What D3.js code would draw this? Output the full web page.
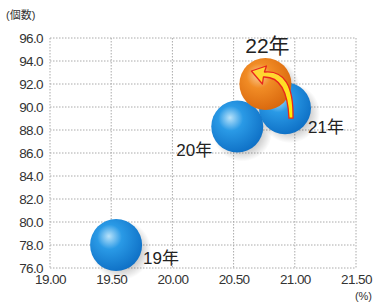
<!DOCTYPE html>
<meta charset="utf-8">
<style>
body { margin: 0; background: #fff; }
text { font-family: "Liberation Sans", "Noto Sans CJK JP", sans-serif; }
.grid line { stroke: #aaa; stroke-dasharray: 1.5,1.5; }
</style>
<svg width="374" height="302"></svg>
<script src="https://d3js.org/d3.v7.min.js"></script>
<script>

// data
var years   = ["19年", "20年", "21年", "22年"];
var xValues = [19.54, 20.53, 20.92, 20.76];
var yValues = [78.0, 88.3, 89.9, 92.0];
var xTicks  = [19.0, 19.5, 20.0, 20.5, 21.0, 21.5];
var yTicks  = [76, 78, 80, 82, 84, 86, 88, 90, 92, 94, 96];

var svg = d3.select("svg"),
    margin = {top: 38, right: 18, bottom: 34, left: 50},
    width = +svg.attr("width") - margin.left - margin.right,
    height = +svg.attr("height") - margin.top - margin.bottom,
    g = svg.append("g").attr("transform", "translate(" + margin.left + "," + margin.top + ")");

var x = d3.scaleLinear().domain([19, 21.5]).range([0, width]);
var y = d3.scaleLinear().domain([76, 96]).range([height, 0]);

// gradients for the balls
var defs = svg.append("defs");
function ball(id, light, mid, dark) {
  var gr = defs.append("radialGradient").attr("id", id)
      .attr("cx", "40%").attr("cy", "37%").attr("r", "68%").attr("fx", "36%").attr("fy", "33%");
  gr.append("stop").attr("offset", "0%").attr("stop-color", light);
  gr.append("stop").attr("offset", "35%").attr("stop-color", mid);
  gr.append("stop").attr("offset", "100%").attr("stop-color", dark);
}
ball("blue", "#b8e2fa", "#2a9ae6", "#0d6ec4");
ball("orange", "#fbcb97", "#f18c25", "#d8660c");

var sh = defs.append("radialGradient").attr("id", "shadow");
sh.append("stop").attr("offset", "60%").attr("stop-color", "#000").attr("stop-opacity", 0.22);
sh.append("stop").attr("offset", "100%").attr("stop-color", "#000").attr("stop-opacity", 0);

var ag = defs.append("linearGradient").attr("id", "arrowFill")
    .attr("x1", "0%").attr("y1", "100%").attr("x2", "0%").attr("y2", "0%");
ag.append("stop").attr("offset", "0%").attr("stop-color", "#fff200");
ag.append("stop").attr("offset", "100%").attr("stop-color", "#ffd23a");

// grid
var grid = g.append("g").attr("class", "grid");
grid.selectAll(".v").data(xTicks).enter().append("line")
    .attr("x1", d => x(d)).attr("x2", d => x(d))
    .attr("y1", 0).attr("y2", height);
grid.selectAll(".h").data(yTicks).enter().append("line")
    .attr("x1", 0).attr("x2", width)
    .attr("y1", d => y(d)).attr("y2", d => y(d));

// axes (labels only)
var yAxis = g.append("g")
    .call(d3.axisLeft(y).tickValues(yTicks).tickFormat(d3.format(".1f")).tickSize(0).tickPadding(7));
var xAxis = g.append("g")
    .attr("transform", "translate(0," + height + ")")
    .call(d3.axisBottom(x).tickValues(xTicks).tickFormat(d3.format(".2f")).tickSize(0).tickPadding(6));
[yAxis, xAxis].forEach(function(a) {
  a.select(".domain").remove();
  a.selectAll("text").attr("fill", "#333").attr("font-size", 13.5)
      .style("font-family", "'Liberation Sans', sans-serif").attr("letter-spacing", "-0.6");
});

svg.append("text").attr("x", 6).attr("y", 19).attr("font-size", 11).attr("fill", "#333")
    .text("(個数)");
svg.append("text").attr("x", 372).attr("y", 300).attr("text-anchor", "end")
    .attr("font-size", 11).attr("fill", "#333").text("(%)");

var pts = years.map(function(d, i) { return {year: d, x: xValues[i], y: yValues[i]}; });
var r = 26;

// shadows
g.selectAll(".shadow").data(pts).enter().append("ellipse")
    .attr("cx", d => x(d.x) + 5).attr("cy", d => y(d.y) + 5)
    .attr("rx", r + 4).attr("ry", r + 4).attr("fill", "url(#shadow)");

// balls: draw 21, 20, 19, then 22 on top
var order = [0, 2, 1, 3];
g.selectAll(".ball").data(order.map(i => pts[i])).enter().append("circle")
    .attr("cx", d => x(d.x)).attr("cy", d => y(d.y)).attr("r", r)
    .attr("fill", d => d.year === "22年" ? "url(#orange)" : "url(#blue)");

// arrow from 21 to 22
var p21 = pts[2], p22 = pts[3];
var tx = x(p21.x) + 6, ty = y(p21.y) + 10;
var hx = x(p22.x) - 14, hy = y(p22.y) - 13;
var arrow = d3.path();
arrow.moveTo(tx - 2, ty);
arrow.quadraticCurveTo(tx - 4, hy + 5, hx + 12, hy + 6);
arrow.lineTo(hx + 11, hy + 13);
arrow.lineTo(hx, hy);
arrow.lineTo(hx + 15, hy - 5);
arrow.lineTo(hx + 13, hy + 1);
arrow.quadraticCurveTo(tx + 3, hy - 2, tx + 2, ty);
arrow.closePath();
g.append("path").attr("d", arrow.toString())
    .attr("fill", "url(#arrowFill)").attr("stroke", "#e8261c").attr("stroke-width", 1.3)
    .attr("stroke-linejoin", "round");

// year labels
var off = {"19年": [27, 19, "start"], "20年": [-25, 29, "end"], "21年": [23, 25, "start"], "22年": [2, -31, "middle"]};
g.selectAll(".lab").data(pts).enter().append("text")
    .attr("x", d => x(d.x) + off[d.year][0]).attr("y", d => y(d.y) + off[d.year][1])
    .attr("text-anchor", d => off[d.year][2])
    .attr("font-size", d => d.year === "22年" ? 21 : 17).attr("fill", "#222")
    .style("font-family", "'Liberation Sans', 'Noto Sans CJK JP', sans-serif")
    .text(d => d.year);
</script>
